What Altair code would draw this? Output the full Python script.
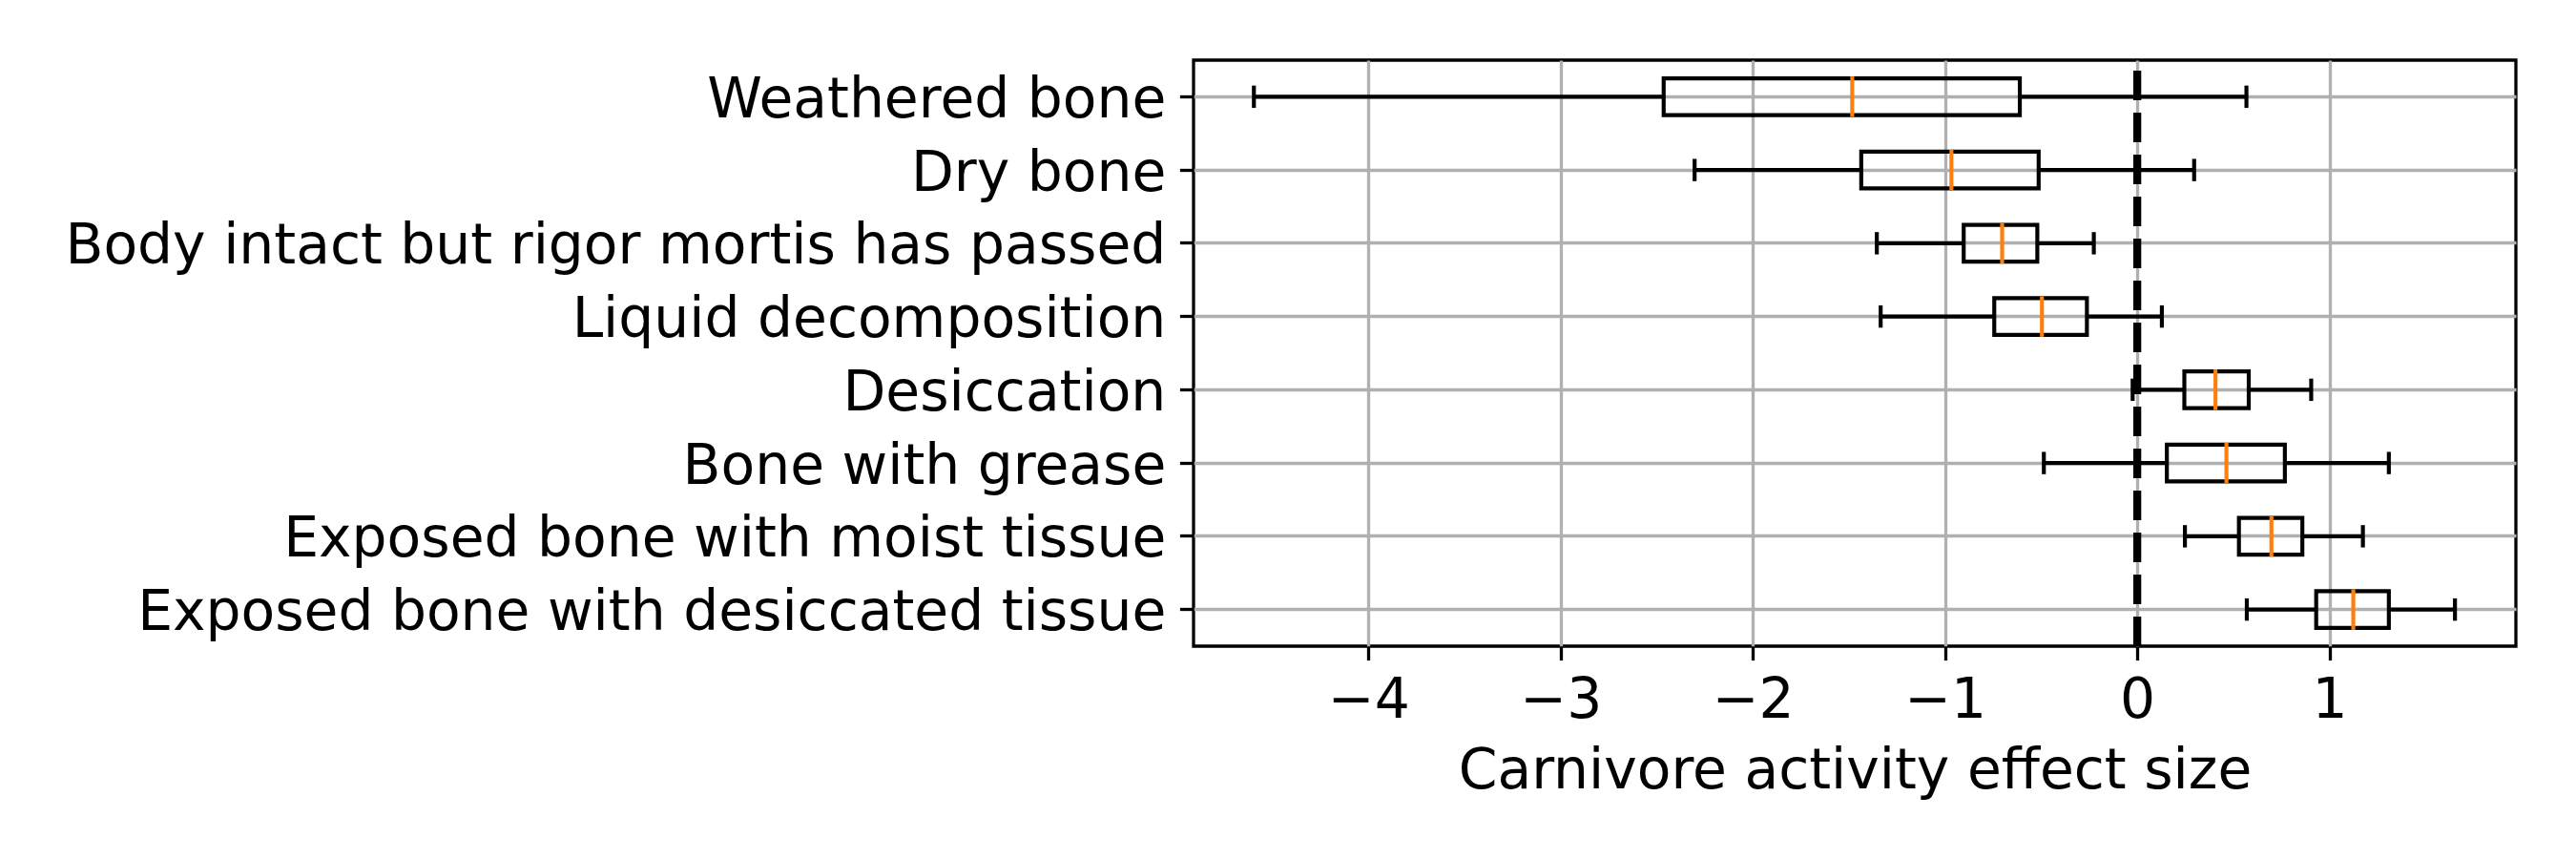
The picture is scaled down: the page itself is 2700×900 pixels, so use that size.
import altair as alt
import pandas as pd

categories = [
    "Weathered bone",
    "Dry bone",
    "Body intact but rigor mortis has passed",
    "Liquid decomposition",
    "Desiccation",
    "Bone with grease",
    "Exposed bone with moist tissue",
    "Exposed bone with desiccated tissue",
]
whisker_low = [-4.596, -2.303, -1.355, -1.335, -0.024, -0.486, 0.248, 0.570]
q1 = [-2.464, -1.436, -0.903, -0.744, 0.245, 0.154, 0.529, 0.931]
median = [-1.483, -0.967, -0.703, -0.496, 0.407, 0.464, 0.698, 1.124]
q3 = [-0.611, -0.513, -0.520, -0.262, 0.580, 0.768, 0.859, 1.309]
whisker_high = [0.568, 0.296, -0.226, 0.128, 0.905, 1.309, 1.174, 1.653]
x_ticks = [-4, -3, -2, -1, 0, 1]
x_domain = [-4.91, 1.97]
x_title = "Carnivore activity effect size"

df = pd.DataFrame({
    "cat": categories, "lo": whisker_low, "q1": q1,
    "med": median, "q3": q3, "hi": whisker_high,
})

W, H = 1386, 614
LW = 4.17
FS = 58.3

xscale = alt.Scale(domain=x_domain, nice=False, zero=False)
yscale = alt.Scale(domain=categories, paddingInner=0, paddingOuter=0)

xaxis = alt.Axis(
    values=x_ticks, format="d", title=x_title, grid=True, gridColor="#b0b0b0",
    gridWidth=3.3, gridOpacity=1, domain=False, ticks=True, tickColor="black",
    tickWidth=3.3, tickSize=14.6, labelFontSize=FS, labelColor="black",
    labelPadding=14.2, labelExpr="replace(datum.label, '-', '\u2212')",
    labelFlush=False, titleFontSize=FS, titleFontWeight="normal",
    titleColor="black", titleBaseline="alphabetic", titleY=148,
)
yaxis = alt.Axis(
    title=None, grid=True, gridColor="#b0b0b0", gridWidth=3.3, gridOpacity=1,
    domain=False, ticks=True, tickColor="black", tickWidth=3.3, tickSize=14.6,
    labelFontSize=FS, labelColor="black", labelPadding=14.6, labelLimit=0,
    labelBaseline="middle", labelOffset=4.5, bandPosition=0.5,
)

base = alt.Chart(df)

box = base.mark_bar(size=38.4, fill="white", fillOpacity=0, stroke="black",
                    strokeWidth=LW).encode(
    x=alt.X("q1:Q", scale=xscale, axis=xaxis),
    x2="q3:Q",
    y=alt.Y("cat:N", scale=yscale, axis=yaxis, sort=categories),
)
wlo = base.mark_rule(color="black", strokeWidth=LW).encode(
    x="lo:Q", x2="q1:Q", y=alt.Y("cat:N", sort=categories))
whi = base.mark_rule(color="black", strokeWidth=LW).encode(
    x="q3:Q", x2="hi:Q", y=alt.Y("cat:N", sort=categories))
cap_lo = base.mark_tick(color="black", size=23.4, thickness=LW, opacity=1).encode(
    x="lo:Q", y=alt.Y("cat:N", sort=categories))
cap_hi = base.mark_tick(color="black", size=23.4, thickness=LW, opacity=1).encode(
    x="hi:Q", y=alt.Y("cat:N", sort=categories))
med = base.mark_tick(color="#ff7f0e", size=42.5, thickness=LW, opacity=1).encode(
    x="med:Q", y=alt.Y("cat:N", sort=categories))
zero = alt.Chart(pd.DataFrame({"z": [0]})).mark_rule(
    color="black", strokeWidth=8.3, strokeDash=[31, 13]).encode(
    x=alt.X("z:Q"), y=alt.value(H), y2=alt.value(0))

chart = alt.layer(box, wlo, whi, cap_lo, cap_hi, med, zero).properties(
    width=W, height=H,
    autosize=alt.AutoSizeParams(type="none"),
    padding={"left": 1243, "top": 55, "right": 50, "bottom": 200},
).configure(font="DejaVu Sans").configure_view(
    stroke="black", strokeWidth=3.3
)

chart.save("out.html", embed_options={"renderer": "svg", "actions": False})
